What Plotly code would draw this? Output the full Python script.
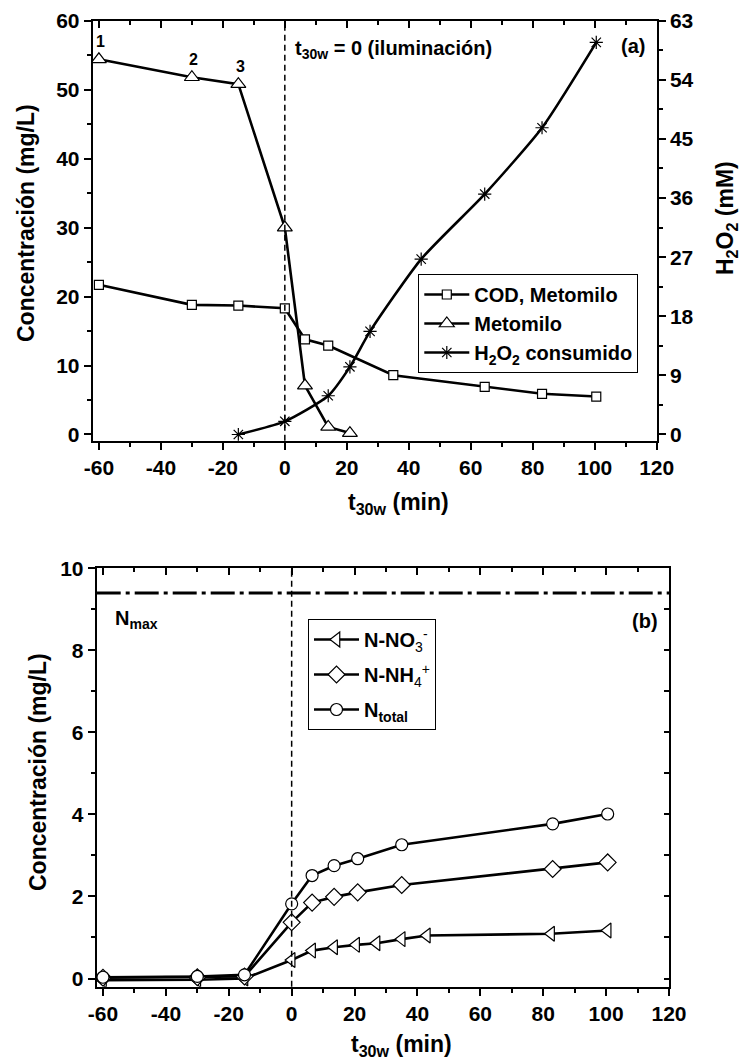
import plotly.graph_objects as go

# ---------------- data ----------------
# Panel (a)
cod_t = [-60, -30, -15, 0, 6.5, 14, 35, 64.5, 83, 100.5]
cod_c = [21.7, 18.8, 18.7, 18.3, 13.8, 12.9, 8.6, 6.9, 5.9, 5.5]

met_t = [-60, -30, -15, 0, 6.5, 14, 21]
met_c = [54.4, 51.8, 50.8, 30.0, 7.1, 1.1, 0.2]

h2o2_t = [-15, 0, 14, 21, 27.5, 44, 64.5, 83, 100.5]
h2o2_c = [0.0, 2.0, 5.9, 10.3, 15.7, 26.7, 36.6, 46.7, 59.7]

sample_labels = ["1", "2", "3"]

# Panel (b)
no3_t = [-60, -30, -15, 0, 6.5, 13.5, 20.5, 27, 35, 43, 82.5, 100.5]
no3_c = [-0.04, -0.03, 0.0, 0.45, 0.68, 0.76, 0.82, 0.86, 0.96, 1.05, 1.09, 1.17]

nh4_t = [-60, -30, -15, 0, 6.5, 13.5, 21, 35, 83, 100.5]
nh4_c = [0.02, 0.03, 0.05, 1.37, 1.85, 1.99, 2.10, 2.28, 2.67, 2.83]

ntot_t = [-60, -30, -15, 0, 6.5, 13.5, 21, 35, 83, 100.5]
ntot_c = [0.03, 0.05, 0.09, 1.82, 2.51, 2.75, 2.92, 3.26, 3.77, 4.01]

n_max = 9.4

# tick labels (hyphen minus as in the original)
x_tick_vals = [-60, -40, -20, 0, 20, 40, 60, 80, 100, 120]
x_tick_text = ["-60", "-40", "-20", "0", "20", "40", "60", "80", "100", "120"]

# ---------------- layout geometry ----------------
W, H = 747, 1064
FONT = "Liberation Sans, Arial, sans-serif"
TICKF = dict(family=FONT, size=21, color="black", weight="bold")

def px(x):
    return x / W

def py(y):
    return 1 - y / H

top_dx = [px(92.7), px(656.7)]
top_dy = [py(440.7), py(20.7)]
bot_dx = [px(96.7), px(669.0)]
bot_dy = [py(986.7), py(568.3)]

fig = go.Figure()

LW = 2.6
mk_line = dict(color="black", width=1.2)

fig.add_trace(go.Scatter(
    x=cod_t, y=cod_c, name="COD, Metomilo", mode="lines+markers",
    line=dict(color="black", width=LW),
    marker=dict(symbol="square", size=9, color="white", line=mk_line),
    xaxis="x", yaxis="y", legend="legend"))
fig.add_trace(go.Scatter(
    x=met_t, y=met_c, name="Metomilo", mode="lines+markers",
    line=dict(color="black", width=LW),
    marker=dict(symbol="triangle-up", size=13, color="white", line=mk_line),
    xaxis="x", yaxis="y", legend="legend"))
fig.add_trace(go.Scatter(
    x=h2o2_t, y=h2o2_c, name="H<sub>2</sub>O<sub>2</sub> consumido", mode="lines+markers",
    line=dict(color="black", width=LW, shape="spline", smoothing=0.6),
    marker=dict(symbol="asterisk-open", size=11, color="black", line=dict(color="black", width=1.2)),
    xaxis="x", yaxis="y2", legend="legend"))

NS = "<span style='font-weight:normal'>"
fig.add_trace(go.Scatter(
    x=no3_t, y=no3_c, name="N-NO" + NS + "<sub>3</sub><sup>-</sup></span>", mode="lines+markers",
    line=dict(color="black", width=LW), legendgroup="a",
    marker=dict(symbol="triangle-left", size=13, color="white", line=mk_line),
    xaxis="x2", yaxis="y3", legend="legend2"))
fig.add_trace(go.Scatter(
    x=nh4_t, y=nh4_c, name="N-NH" + NS + "<sub>4</sub><sup>+</sup></span>", mode="lines+markers",
    line=dict(color="black", width=LW), legendgroup="b",
    marker=dict(symbol="diamond", size=13, color="white", line=mk_line),
    xaxis="x2", yaxis="y3", legend="legend2"))
fig.add_trace(go.Scatter(
    x=ntot_t, y=ntot_c, name="N<sub>total</sub>", mode="lines+markers",
    line=dict(color="black", width=LW), legendgroup="c",
    marker=dict(symbol="circle", size=12, color="white", line=mk_line),
    xaxis="x2", yaxis="y3", legend="legend2"))

# dummy traces to make mirror axes render
fig.add_trace(go.Scatter(x=[None], y=[None], xaxis="x3", yaxis="y", showlegend=False, hoverinfo="skip"))
fig.add_trace(go.Scatter(x=[None], y=[None], xaxis="x4", yaxis="y3", showlegend=False, hoverinfo="skip"))
fig.add_trace(go.Scatter(x=[None], y=[None], xaxis="x2", yaxis="y4", showlegend=False, hoverinfo="skip"))

def xax(domain, anchor, **kw):
    d = dict(domain=domain, anchor=anchor, range=[-62, 120],
             tickmode="array", tickvals=x_tick_vals, ticktext=x_tick_text,
             showline=True, linecolor="black", linewidth=2, ticks="outside",
             ticklen=7, tickwidth=2, tickcolor="black", tickfont=TICKF,
             showgrid=False, zeroline=False, automargin=False,
             minor=dict(tickmode="linear", tick0=0, dtick=10, ticks="outside", ticklen=4,
                        tickwidth=1.5, tickcolor="black"))
    d.update(kw)
    return d

def yax(domain, anchor, rng, dt, mdt, **kw):
    d = dict(domain=domain, anchor=anchor, range=rng, tick0=0, dtick=dt,
             showline=True, linecolor="black", linewidth=2, ticks="outside",
             ticklen=7, tickwidth=2, tickcolor="black", tickfont=TICKF,
             showgrid=False, zeroline=False, automargin=False,
             minor=dict(dtick=mdt, ticks="outside", ticklen=4, tickwidth=1.5, tickcolor="black"))
    d.update(kw)
    return d

fig.update_layout(
    width=W, height=H,
    margin=dict(l=0, r=0, t=0, b=0, autoexpand=False),
    paper_bgcolor="white", plot_bgcolor="white",
    font=dict(family=FONT, color="black"),
    xaxis=xax(top_dx, "y"),
    yaxis=yax(top_dy, "x", [-0.9, 60], 10, 5),
    yaxis2=yax(top_dy, "x", [-0.945, 63], 9, 4.5, overlaying="y", side="right"),
    xaxis3=xax(top_dx, "y", overlaying="x", side="top", ticks="inside", showticklabels=False,
               minor=dict(tickmode="linear", tick0=0, dtick=10, ticks="inside", ticklen=4,
                          tickwidth=1.5, tickcolor="black")),
    xaxis2=xax(bot_dx, "y3"),
    yaxis3=yax(bot_dy, "x2", [-0.2, 10], 2, 1),
    xaxis4=xax(bot_dx, "y3", overlaying="x2", side="top", ticks="inside", showticklabels=False,
               minor=dict(tickmode="linear", tick0=0, dtick=10, ticks="inside", ticklen=4,
                          tickwidth=1.5, tickcolor="black")),
    yaxis4=yax(bot_dy, "x2", [-0.2, 10], 1, 1, overlaying="y3", side="right", ticks="inside",
               ticklen=5, showticklabels=False, minor=dict(ticks="")),
    legend=dict(x=px(418.3), y=py(274), xanchor="left", yanchor="top",
                bordercolor="black", borderwidth=1, bgcolor="white",
                font=dict(family=FONT, size=20, color="black", weight="bold"),
                itemwidth=45, tracegroupgap=0),
    legend2=dict(x=px(308), y=py(619), xanchor="left", yanchor="top",
                 bordercolor="black", borderwidth=1, bgcolor="white",
                 font=dict(family=FONT, size=20, color="black", weight="bold"),
                 itemwidth=45, tracegroupgap=6),
    showlegend=True,
)

# reference lines
fig.add_shape(type="line", xref="x", yref="y domain", x0=0, x1=0, y0=0, y1=1,
              line=dict(color="black", width=1.5, dash="6px,4px"))
fig.add_shape(type="line", xref="x2", yref="y3 domain", x0=0, x1=0, y0=0, y1=1,
              line=dict(color="black", width=1.5, dash="6px,4px"))
fig.add_shape(type="line", xref="x2 domain", yref="y3", x0=0, x1=1, y0=n_max, y1=n_max,
              line=dict(color="black", width=3, dash="24px,5px,4px,5px"))

ann_font = dict(family=FONT, size=20, color="black", weight="bold")
title_font = dict(family=FONT, size=23, color="black", weight="bold")

annotations = [
    # axis titles
    dict(text="Concentración (mg/L)", x=px(26), y=py(223), textangle=-90, font=title_font),
    dict(text="t<sub>30w</sub> (min)", x=px(398), y=py(504), font=title_font),
    dict(text="H<sub>2</sub>O<sub>2</sub> (mM)", x=px(726), y=py(218), textangle=-90, font=title_font),
    dict(text="Concentración (mg/L)", x=px(38), y=py(772), textangle=-90, font=title_font),
    dict(text="t<sub>30w</sub> (min)", x=px(401), y=py(1045), font=title_font),
    # panel texts
    dict(text="t<sub>30w</sub> = 0 (iluminación)", x=px(292.7), y=py(50), xanchor="left", font=ann_font),
    dict(text="(a)", x=px(633), y=py(46), font=ann_font),
    dict(text="N<sub>max</sub>", x=px(113), y=py(619), xanchor="left", font=ann_font),
    dict(text="(b)", x=px(645), y=py(621), font=ann_font),
]
for a in annotations:
    a.setdefault("xanchor", "center")
    a.update(xref="paper", yref="paper", yanchor="middle", showarrow=False)
    fig.add_annotation(**a)

# sample numbers above first three Metomilo points
for lab, t, c in zip(sample_labels, met_t[:3], met_c[:3]):
    fig.add_annotation(text=lab, x=t, y=c, xref="x", yref="y", yshift=18, xshift=2,
                       showarrow=False, font=dict(family=FONT, size=16, color="black", weight="bold"))

fig.write_html("out.html", config={"displayModeBar": False})

# remove the browser's default body margin so the figure fills the window exactly
with open("out.html", "r", encoding="utf-8") as f:
    html = f.read()
html = html.replace("<body>", "<body style=\"margin:0;overflow:hidden\">", 1)
with open("out.html", "w", encoding="utf-8") as f:
    f.write(html)
